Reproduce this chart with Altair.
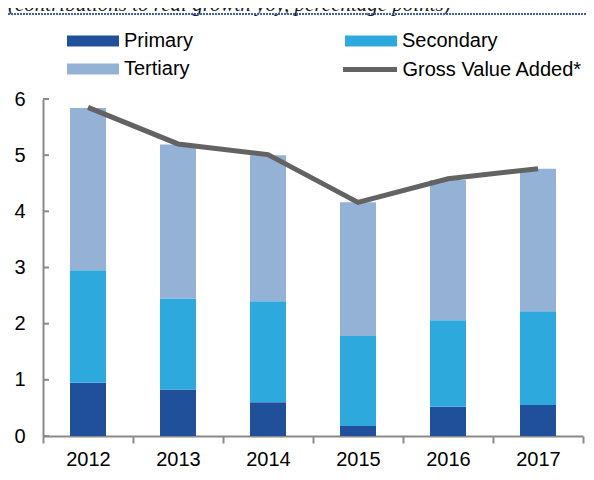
import altair as alt
import pandas as pd

years = ["2012", "2013", "2014", "2015", "2016", "2017"]
primary = [0.95, 0.83, 0.60, 0.18, 0.52, 0.55]
secondary = [2.00, 1.62, 1.80, 1.60, 1.54, 1.67]
tertiary = [2.89, 2.74, 2.60, 2.38, 2.50, 2.54]
gva = [5.85, 5.20, 5.01, 4.16, 4.58, 4.76]

sectors = ["Primary", "Secondary", "Tertiary"]
sector_colors = ["#21509b", "#2ea9de", "#94b1d6"]
legend_order = ["Primary", "Tertiary", "Secondary"]
line_name = ["Gross Value Added*"]
line_color = ["#636363"]
y_ticks = [0, 1, 2, 3, 4, 5, 6]
title_text = "(contributions to real growth yoy, percentage points)"

rows = []
for i, y in enumerate(years):
    for k, (name, vals) in enumerate(zip(sectors, [primary, secondary, tertiary])):
        rows.append({"Year": y, "Sector": name, "Value": vals[i], "idx": k})
bars_df = pd.DataFrame(rows)
line_df = pd.DataFrame({"Year": years, "Value": gva, "Series": line_name * len(years)})
ticks_df = pd.DataFrame({"v": y_ticks})
title_df = pd.DataFrame({"t": [title_text]})

FONT = "Liberation Sans"

bar_legend = alt.Legend(
    title=None,
    orient="none",
    legendX=37,
    legendY=-71,
    columns=2,
    columnPadding=152,
    rowPadding=5,
    values=legend_order,
    labelFont=FONT,
    labelFontSize=20,
    labelColor="#000000",
    labelOffset=18,
    labelLimit=300,
    symbolSize=676,
    symbolStrokeWidth=0,
    symbolOpacity=1,
    symbolType="M-2,-0.42L2,-0.42L2,0.42L-2,0.42Z",
)

line_legend = alt.Legend(
    title=None,
    orient="none",
    legendX=297.5,
    legendY=-59,
    labelFont=FONT,
    labelFontSize=20,
    labelColor="#000000",
    labelOffset=3,
    labelLimit=300,
    symbolSize=2916,
    symbolStrokeWidth=5,
    symbolType="stroke",
)

x_enc = alt.X(
    "Year:N",
    sort=years,
    scale=alt.Scale(paddingInner=0, paddingOuter=0),
    axis=alt.Axis(
        title=None,
        labelFont=FONT,
        labelFontSize=20,
        labelColor="#000000",
        labelAngle=0,
        labelPadding=6,
        tickBand="extent",
        tickSize=7,
        tickColor="#8a8a8a",
        tickWidth=2,
        domainColor="#8a8a8a",
        domainWidth=2,
        grid=False,
    ),
)

bars = alt.Chart(bars_df).mark_bar(width=alt.RelativeBandSize(0.4)).encode(
    x=x_enc,
    y=alt.Y(
        "Value:Q",
        stack="zero",
        scale=alt.Scale(domain=[0, 6], nice=False),
        axis=alt.Axis(
            title=None,
            values=y_ticks,
            format="d",
            ticks=False,
            labelFont=FONT,
            labelFontSize=20,
            labelColor="#000000",
            labelPadding=18,
            domainColor="#8a8a8a",
            domainWidth=2,
            grid=False,
        ),
    ),
    color=alt.Color("Sector:N", scale=alt.Scale(domain=sectors, range=sector_colors), legend=bar_legend),
    order=alt.Order("idx:Q", sort="ascending"),
)

line = alt.Chart(line_df).mark_line(strokeWidth=5).encode(
    x=alt.X("Year:N", sort=years),
    y=alt.Y("Value:Q"),
    color=alt.Color("Series:N", scale=alt.Scale(domain=line_name, range=line_color), legend=line_legend),
)

yticks = alt.Chart(ticks_df).mark_rule(color="#8a8a8a", strokeWidth=2).encode(
    x=alt.value(0),
    x2=alt.value(6),
    y=alt.Y("v:Q"),
)

title = alt.Chart(title_df).mark_text(
    font="Liberation Serif", fontStyle="italic", fontSize=21, align="left",
    baseline="alphabetic", color="#1a1a1a",
).encode(text="t:N", x=alt.value(-35), y=alt.value(-88))

dotted = alt.Chart(title_df).mark_rule(color="#3d5fae", strokeWidth=2, strokeDash=[2, 1]).encode(
    x=alt.value(-35), x2=alt.value(545), y=alt.value(-85)
)

chart = alt.layer(bars, line, yticks, title, dotted).resolve_scale(
    color="independent"
).properties(
    width=540,
    height=337,
    padding={"left": 35, "top": 91, "right": 3, "bottom": 36},
    autosize=alt.AutoSizeParams(type="none"),
).configure_view(stroke=None)

chart.save("out.html", embed_options={"renderer": "svg", "actions": False})
